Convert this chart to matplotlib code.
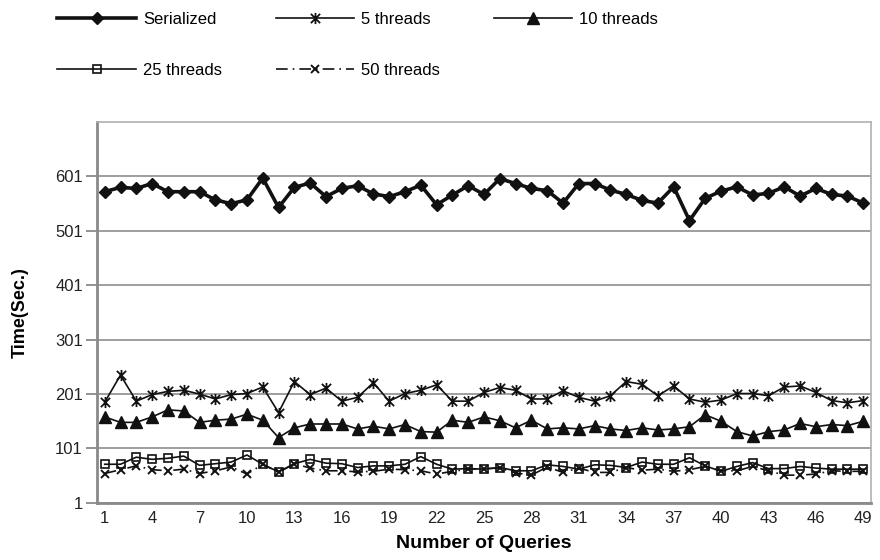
import matplotlib
matplotlib.use("Agg")
import matplotlib.pyplot as plt
from matplotlib.path import Path
import numpy as np

plt.rcParams['font.family'] = ['Liberation Sans', 'DejaVu Sans']

# query number 1..49
queries = np.arange(1, 50)

serialized = [573, 581, 579, 588, 573, 573, 573, 558, 551, 558,
              598, 544, 581, 589, 564, 579, 584, 569, 564, 573,
              585, 549, 567, 584, 568, 597, 588, 579, 575, 552,
              588, 588, 576, 568, 557, 552, 582, 520, 561, 574,
              582, 567, 570, 582, 565, 579, 568, 565, 552]
threads5 = [186, 236, 188, 200, 206, 208, 201, 192, 200, 202,
            214, 167, 224, 200, 212, 188, 195, 222, 188, 202,
            208, 218, 188, 188, 204, 213, 208, 192, 192, 207,
            195, 188, 198, 224, 219, 198, 216, 192, 186, 190,
            202, 202, 198, 214, 216, 204, 189, 185, 189]
threads10 = [159, 149, 149, 159, 172, 170, 149, 153, 155, 164,
             153, 121, 139, 146, 146, 146, 137, 142, 137, 145,
             132, 131, 153, 149, 159, 152, 139, 153, 137, 139,
             137, 143, 137, 134, 139, 135, 137, 141, 163, 151,
             132, 124, 132, 135, 147, 141, 145, 143, 151]
threads25 = [72, 72, 85, 81, 83, 87, 70, 73, 76, 89,
             72, 58, 73, 81, 74, 73, 66, 69, 69, 72,
             86, 72, 63, 64, 63, 66, 60, 60, 71, 68,
             63, 71, 70, 66, 76, 72, 72, 84, 69, 59,
             68, 75, 64, 64, 68, 65, 63, 63, 63]
threads50 = [55, 62, 69, 62, 60, 63, 55, 60, 67, 54,
             72, 57, 73, 65, 60, 60, 58, 59, 63, 62,
             60, 54, 59, 63, 64, 65, 56, 52, 67, 57,
             65, 57, 57, 66, 61, 63, 59, 62, 68, 60,
             60, 68, 60, 52, 52, 54, 60, 59, 59]

yticks = [1, 101, 201, 301, 401, 501, 601]
xticks = list(range(1, 50, 3))

# excel style star: x plus a vertical bar
star = Path([(-1, -1), (1, 1), (-1, 1), (1, -1), (0, -1.2), (0, 1.2)],
            [Path.MOVETO, Path.LINETO, Path.MOVETO, Path.LINETO, Path.MOVETO, Path.LINETO])

fig = plt.figure(figsize=(8.8, 5.6), dpi=100)
ax = fig.add_axes([0.110, 0.102, 0.880, 0.680])

k = '#111111'
l1, = ax.plot(queries, serialized, color=k, lw=2.6, marker='D', ms=6.5, label='Serialized')
l2, = ax.plot(queries, threads5, color=k, lw=1.2, marker=star, ms=8, mew=1.3, label='5 threads')
l3, = ax.plot(queries, threads10, color=k, lw=1.2, marker='^', ms=8.5, label='10 threads')
l4, = ax.plot(queries, threads25, color=k, lw=1.2, marker='s', ms=6, mfc='none', mew=1.2, label='25 threads')
l5, = ax.plot(queries, threads50, color=k, lw=1.2, ls=(0, (7, 3, 1, 3)), marker='x', ms=6, mew=1.4,
              label='50 threads')

ax.set_xlim(0.5, 49.5)
ax.set_ylim(1, 701)
ax.set_xticks(xticks)
ax.set_yticks(yticks)
ax.tick_params(axis='x', length=0, pad=6, labelsize=12, colors='#222222')
ax.tick_params(axis='y', length=8, width=1.3, color='#8a8a8a', pad=2, labelsize=12, labelcolor='#222222')
ax.grid(axis='y', color='#8e8e8e', lw=1.2)
ax.set_axisbelow(True)

for s in ['left', 'bottom']:
    ax.spines[s].set_color('#8a8a8a')
    ax.spines[s].set_linewidth(2.0)
for s in ['top', 'right']:
    ax.spines[s].set_color('#b0b0b0')
    ax.spines[s].set_linewidth(1.2)

ax.set_xlabel('Number of Queries', fontsize=14, fontweight='bold', labelpad=6)
ax.set_ylabel('Time(Sec.)', fontsize=13, fontweight='bold', labelpad=19)

# legend fills column-wise, so order handles to get rows S/5/10 and 25/50
handles = [l1, l4, l2, l5, l3]
fig.legend(handles=handles, labels=[h.get_label() for h in handles],
           loc='upper left', bbox_to_anchor=(0.052, 1.0), ncol=3, frameon=False,
           fontsize=12, handlelength=4.7, handletextpad=0.45, columnspacing=3.2,
           labelspacing=2.2, borderaxespad=0.3)

fig.savefig('out.png', dpi=100)
